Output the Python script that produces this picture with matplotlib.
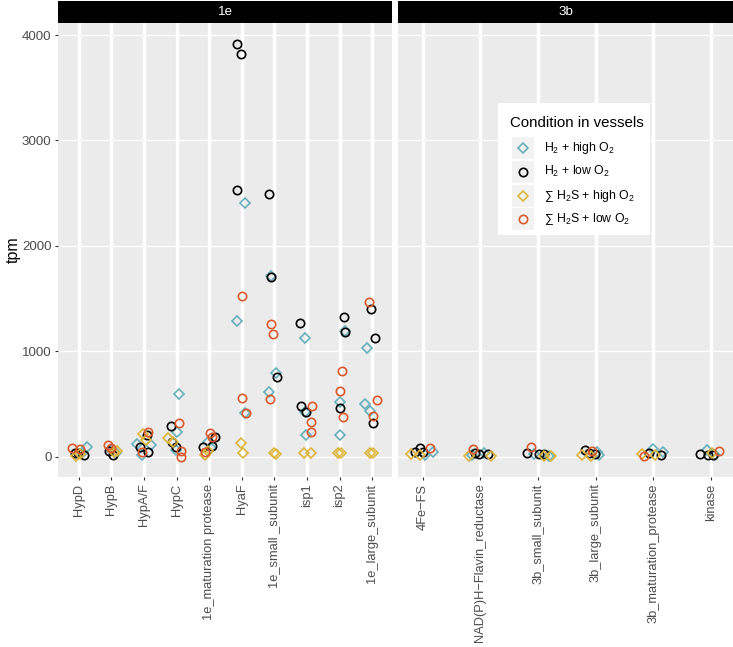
import matplotlib
matplotlib.use("Agg")
import matplotlib.pyplot as plt
from matplotlib.patches import Rectangle

plt.rcParams["font.family"] = ["Liberation Sans", "DejaVu Sans"]
plt.rcParams["mathtext.fontset"] = "custom"
plt.rcParams["mathtext.rm"] = "Liberation Sans"
plt.rcParams["mathtext.it"] = "Liberation Sans:italic"

GENES_1E = ["HypD", "HypB", "HypA/F", "HypC", "1e_maturation protease", "HyaF",
            "1e_small _subunit", "isp1", "isp2", "1e_large_subunit"]
GENES_3B = ["4Fe\u2212FS", "NAD(P)H\u2212Flavin_reductase", "3b_small_subunit",
            "3b_large_subunit", "3b_maturation_protease", "kinase"]

# one inner list per gene (1e genes then 3b genes); dx = jitter in category units
H2_HIGH_TPM = [[89, 35], [64, 35], [120, 13, 114], [595, 237, 64], [142, 80],
               [2406, 1288, 415], [1712, 794, 617], [1124, 424, 206], [1190, 522, 206],
               [1029, 500, 437], [44, 16], [16, 35], [26, 10], [16, 45], [70, 44], [64, 16]]
H2_HIGH_DX = [[0.25, 0.09], [0, 0.15], [-0.23, -0.07, 0.21], [0.06, 0, -0.03], [-0.03, 0.05],
              [0.09, -0.16, 0.09], [-0.09, 0.06, -0.15], [-0.06, -0.06, -0.04], [0.16, 0, 0],
              [-0.16, -0.21, -0.05], [0.18, 0.03], [-0.14, 0.07], [-0.07, 0.19], [0.05, 0.02],
              [0, 0.16], [-0.07, 0.07]]

H2_LOW_TPM = [[32, 30, 16], [57, 16], [206, 95, 42], [291, 142, 95], [190, 95, 104],
              [3914, 3824, 2531], [2493, 1708, 759], [1266, 481, 421], [1329, 1183, 465],
              [1402, 1124, 317], [44, 85, 45], [23, 26, 35], [32, 26, 26], [64, 35, 26],
              [35, 19], [23, 16, 20]]
H2_LOW_DX = [[-0.12, -0.02, 0.15], [-0.08, 0.04], [0.08, -0.12, 0.13], [-0.16, -0.13, -0.03],
             [0.18, -0.19, 0.08], [-0.15, -0.03, -0.16], [-0.17, -0.10, 0.09],
             [-0.21, -0.18, -0.03], [0.13, 0.16, 0], [-0.04, 0.09, 0.04], [-0.14, -0.04, 0],
             [-0.02, 0.13, -0.09], [-0.19, 0.02, 0.10], [-0.18, -0.12, -0.02], [-0.07, 0.13],
             [-0.19, -0.05, 0.03]]

H2S_HIGH_TPM = [[7, 25], [45, 54], [212, 158], [180, 140], [16, 54], [125, 30], [32, 28],
                [32, 32], [35, 35], [35, 30], [23, 16], [7, 7], [3, 7], [16, 10], [16, 26], [35]]
H2S_HIGH_DX = [[-0.10, 0.03], [0.09, 0.18], [-0.04, 0.06], [-0.26, -0.12], [-0.12, -0.03],
               [-0.03, 0.03], [-0.02, 0.06], [-0.10, 0.13], [-0.06, 0.06], [-0.06, 0.03],
               [-0.20, -0.05], [0.19, -0.19], [0.22, 0.10], [-0.24, -0.09], [0.02, -0.19], [0.02]]

H2S_LOW_TPM = [[80, 70], [111, 83], [237, 47], [317, 54, 0], [222, 190, 47], [1525, 552, 418],
               [1256, 1167, 550], [481, 332, 237], [816, 626, 380], [1465, 538, 386],
               [85], [70], [95], [54], [7], [54]]
H2S_LOW_DX = [[-0.20, 0.03], [-0.11, 0], [0.13, -0.07], [0.06, 0.14, 0.12], [0.03, 0.08, -0.12],
              [0, 0, 0.14], [-0.11, -0.03, -0.12], [0.14, 0.12, 0.12], [0.08, 0, 0.10],
              [-0.11, 0.14, 0.04], [0.12], [-0.13], [-0.13], [-0.07], [-0.16], [0.13]]

LABELS = ["H$_2$ + high O$_2$", "H$_2$ + low O$_2$",
          "$\\sum$ H$_2$S + high O$_2$", "$\\sum$ H$_2$S + low O$_2$"]
TPM = [H2_HIGH_TPM, H2_LOW_TPM, H2S_HIGH_TPM, H2S_LOW_TPM]
DX = [H2_HIGH_DX, H2_LOW_DX, H2S_HIGH_DX, H2S_LOW_DX]
COLORS = ["#69AFBA", "#000000", "#DDB63D", "#DA5A2E"]
MARKERS = ["D", "o", "D", "o"]
MSIZE = [5.0, 6.0, 5.0, 6.0]

W, H = 733, 647
fig = plt.figure(figsize=(W / 100, H / 100), dpi=100)


def px(x0, y0, x1, y1):
    return [x0 / W, 1 - y1 / H, (x1 - x0) / W, (y1 - y0) / H]


def panel(rect, genes, first, xlim, name, show_y):
    ax = fig.add_axes(px(*rect))
    ax.set_facecolor("#EBEBEB")
    for s in ax.spines.values():
        s.set_visible(False)
    for c in range(4):
        for gi in range(len(genes)):
            vals = TPM[c][first + gi]
            xs = [gi + d for d in DX[c][first + gi]]
            ax.plot(xs, vals, ls="none", marker=MARKERS[c], ms=MSIZE[c], mfc="none",
                    mec=COLORS[c], mew=1.2, zorder=3)
    ax.set_xlim(*xlim)
    ax.set_ylim(-193, 4114)
    ax.set_xticks(range(len(genes)))
    ax.set_xticklabels(genes, rotation=90, va="top", ha="center")
    ax.set_yticks([0, 1000, 2000, 3000, 4000])
    ax.tick_params(colors="#333333", labelcolor="#4D4D4D", length=2.3, width=0.8, pad=2.4)
    ax.tick_params(axis="x", labelsize=9.3)
    ax.tick_params(axis="y", labelsize=9.6)
    if not show_y:
        ax.tick_params(axis="y", length=0, labelleft=False)
    ax.set_axisbelow(True)
    ax.grid(axis="x", color="white", lw=2.5)
    ax.grid(axis="y", color="white", lw=1.0)
    strip = fig.add_axes(px(rect[0], 1, rect[2], 23))
    strip.set_facecolor("black")
    strip.set_xticks([]); strip.set_yticks([])
    for s in strip.spines.values():
        s.set_visible(False)
    strip.text(0.5, 0.5, name, color="white", ha="center", va="center", size=9.6,
               transform=strip.transAxes)
    return ax


panel((58, 23, 392, 477), GENES_1E, 0, (-0.64, 9.61), "1e", True)
panel((398, 23, 733, 477), GENES_3B, len(GENES_1E), (-0.43, 5.38), "3b", False)

fig.text(13 / W, 1 - 250 / H, "tpm", rotation=90, ha="center", va="center", size=11.5)

# legend
lg = fig.add_axes(px(498, 103, 650, 235), zorder=5)
lg.set_facecolor("white")
lg.set_xticks([]); lg.set_yticks([])
for s in lg.spines.values():
    s.set_visible(False)
lg.set_xlim(0, 152); lg.set_ylim(132, 0)
lg.text(12, 20, "Condition in vessels", ha="left", va="center", size=10.8)
for i, lab in enumerate(LABELS):
    yc = 45.3 + i * 23.65
    lg.add_patch(Rectangle((14, yc - 11), 22, 22, facecolor="#F2F2F2", edgecolor="none"))
    lg.plot([25], [yc], ls="none", marker=MARKERS[i], ms=MSIZE[i], mfc="none",
            mec=COLORS[i], mew=1.2)
    lg.text(46, yc, lab, ha="left", va="center", size=8.8)

fig.savefig("out.png", dpi=100)
